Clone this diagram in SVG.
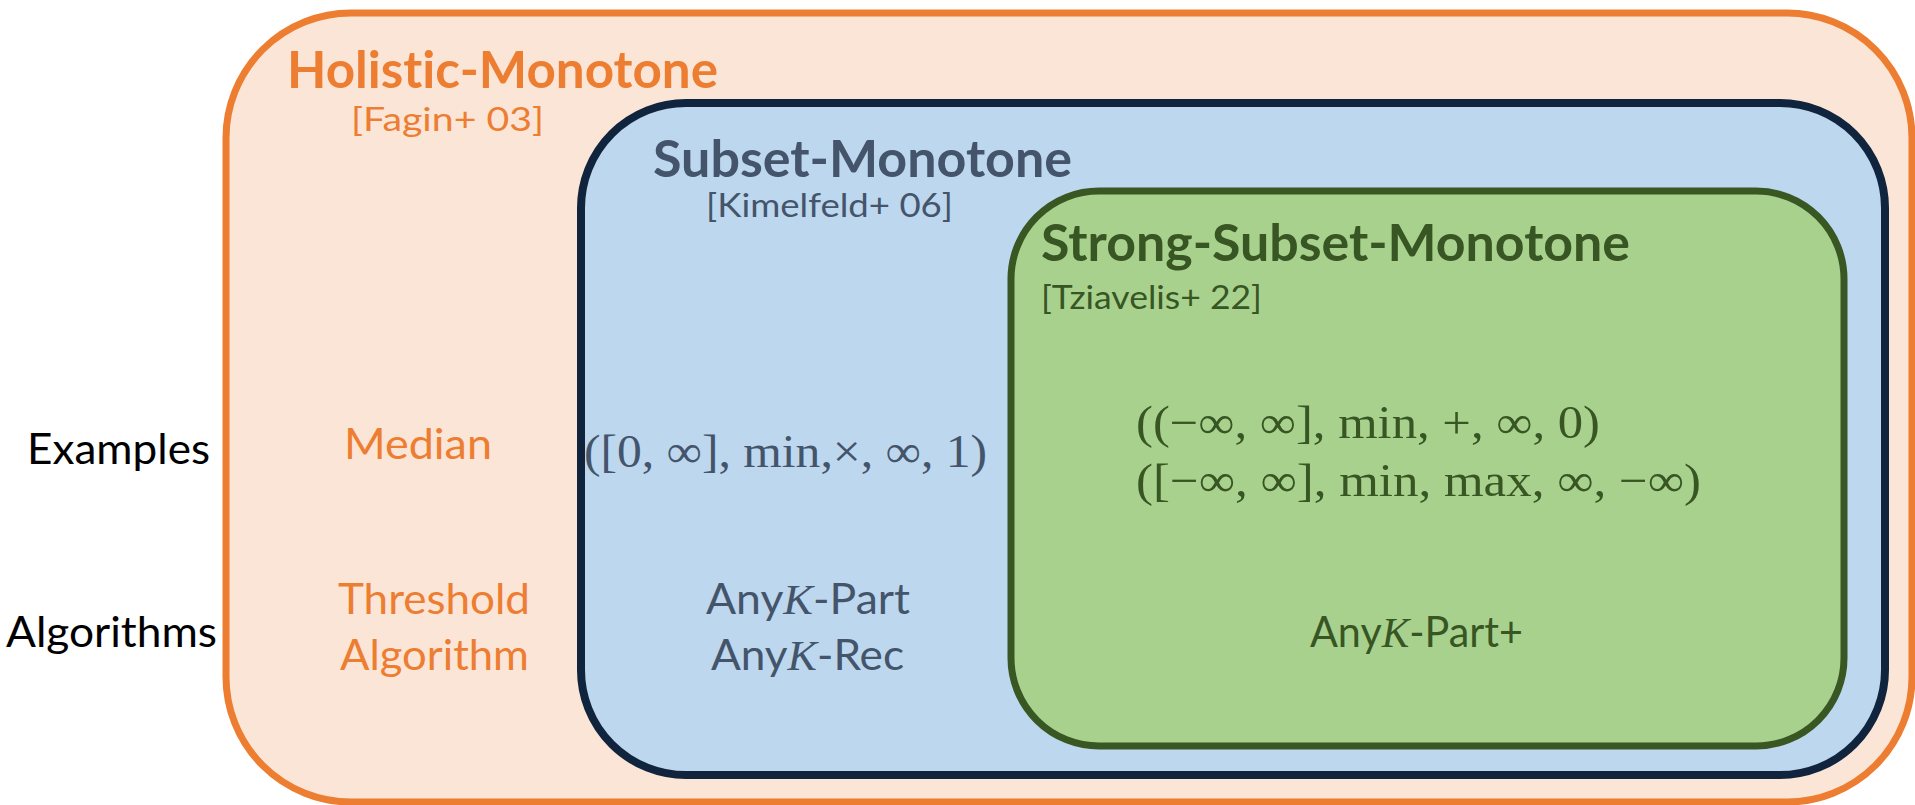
<svg xmlns="http://www.w3.org/2000/svg" width="1915" height="805" viewBox="0 0 1915 805">
<style>
text{font-variant-ligatures:none}
.sans{font-family:Lato,"Open Sans","Liberation Sans",sans-serif}
.math{font-family:"Liberation Serif","DejaVu Serif",serif;font-size:46px}
.kit{font-family:"Liberation Serif","DejaVu Serif",serif;font-style:italic}
.title{font-weight:bold;font-size:52px}
.ref{font-size:33px}
.lab{font-size:42px}
.or{fill:#ED7D31}
.bl{fill:#44546A}
.gr{fill:#375623}
</style>
<rect width="1915" height="805" fill="#ffffff"/>
<g id="holistic-monotone">
<rect x="226" y="13" width="1686" height="789" rx="125" ry="125" fill="#FBE5D6" stroke="#ED7D31" stroke-width="7"/>
<text class="sans title or" x="287" y="88" textLength="431" lengthAdjust="spacingAndGlyphs">Holistic-Monotone</text>
<text class="sans ref or" x="351" y="131" textLength="193" lengthAdjust="spacingAndGlyphs">[Fagin+ 03]</text>
<text class="sans lab or" x="344" y="459" textLength="148" lengthAdjust="spacingAndGlyphs">Median</text>
<text class="sans lab or" x="338" y="614" textLength="192" lengthAdjust="spacingAndGlyphs">Threshold</text>
<text class="sans lab or" x="340" y="670" textLength="189" lengthAdjust="spacingAndGlyphs">Algorithm</text>
</g>
<g id="subset-monotone">
<rect x="581" y="103" width="1304" height="672" rx="105" ry="105" fill="#BDD7EE" stroke="#10243E" stroke-width="8"/>
<text class="sans title bl" x="653" y="177" textLength="419" lengthAdjust="spacingAndGlyphs">Subset-Monotone</text>
<text class="sans ref bl" x="706" y="217" textLength="247" lengthAdjust="spacingAndGlyphs">[Kimelfeld+ 06]</text>
<text class="math bl" x="584" y="467" textLength="403" lengthAdjust="spacingAndGlyphs">([0, ∞], min,×, ∞, 1)</text>
<text class="sans lab bl" x="706" y="614" textLength="204" lengthAdjust="spacingAndGlyphs"><tspan>Any</tspan><tspan class="kit">K</tspan><tspan>-Part</tspan></text>
<text class="sans lab bl" x="711" y="670" textLength="193" lengthAdjust="spacingAndGlyphs"><tspan>Any</tspan><tspan class="kit">K</tspan><tspan>-Rec</tspan></text>
</g>
<g id="strong-subset-monotone">
<rect x="1011" y="191" width="833" height="555" rx="88" ry="88" fill="#A9D18E" stroke="#385723" stroke-width="7"/>
<text class="sans title gr" x="1041" y="261" textLength="589" lengthAdjust="spacingAndGlyphs">Strong-Subset-Monotone</text>
<text class="sans ref gr" x="1041" y="309" textLength="221" lengthAdjust="spacingAndGlyphs">[Tziavelis+ 22]</text>
<text class="math gr" x="1136" y="438" textLength="464" lengthAdjust="spacingAndGlyphs">((−∞, ∞], min, +, ∞, 0)</text>
<text class="math gr" x="1136" y="496" textLength="565" lengthAdjust="spacingAndGlyphs">([−∞, ∞], min, max, ∞, −∞)</text>
<text class="sans lab gr" x="1310" y="647" textLength="213" lengthAdjust="spacingAndGlyphs"><tspan>Any</tspan><tspan class="kit">K</tspan><tspan>-Part+</tspan></text>
</g>
<g id="row-labels">
<text class="sans lab" x="27" y="464" fill="#000000" textLength="183" lengthAdjust="spacingAndGlyphs">Examples</text>
<text class="sans lab" x="6" y="647" fill="#000000" textLength="211" lengthAdjust="spacingAndGlyphs">Algorithms</text>
</g>
<g id="connectors"></g>
</svg>
